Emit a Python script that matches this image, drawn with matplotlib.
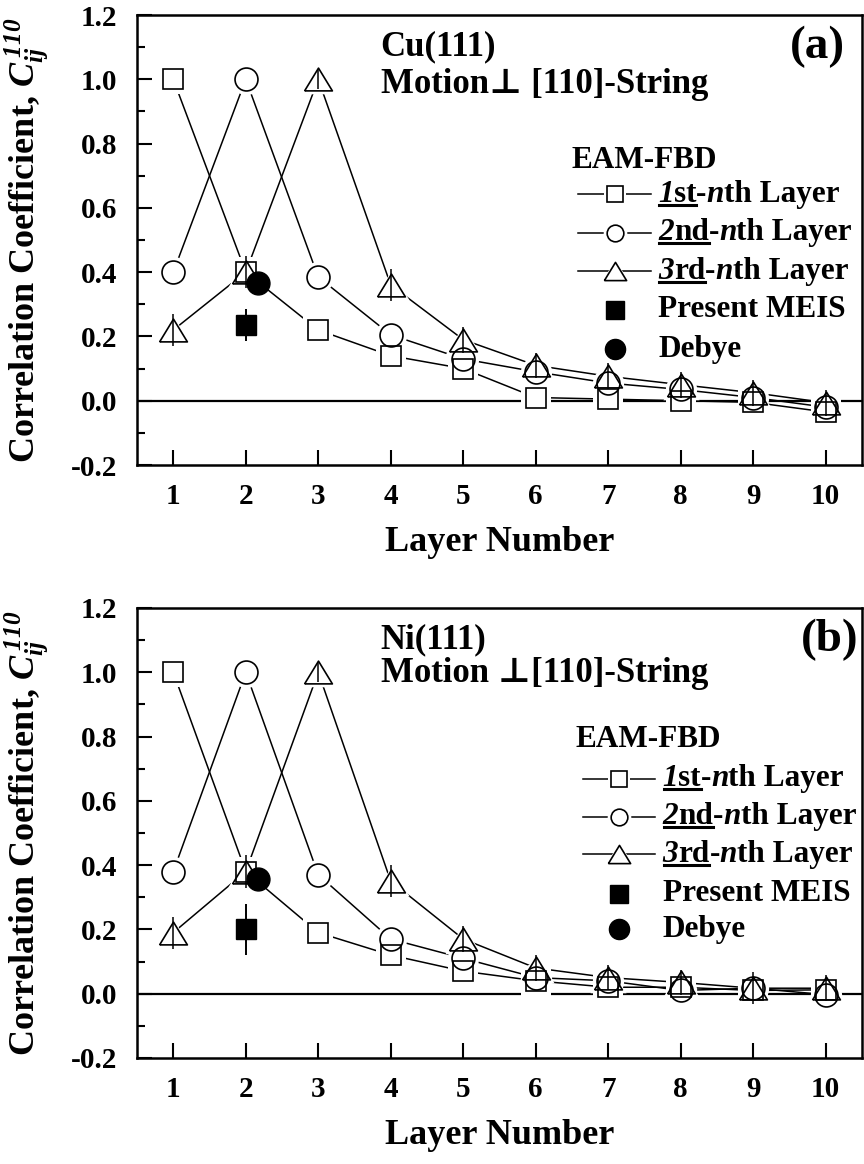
import numpy as np
import matplotlib.pyplot as plt
from matplotlib.ticker import MultipleLocator, FormatStrFormatter
from matplotlib.lines import Line2D

plt.rcParams['font.family'] = ['Liberation Serif', 'DejaVu Serif']
plt.rcParams['font.weight'] = 'bold'
plt.rcParams['mathtext.fontset'] = 'custom'
# only the C_ij^110 part of the y label is math, keep it all italic bold
plt.rcParams['mathtext.rm'] = 'Liberation Serif:italic:bold'
plt.rcParams['mathtext.it'] = 'Liberation Serif:italic:bold'
plt.rcParams['mathtext.bf'] = 'Liberation Serif:italic:bold'

layers = [1, 2, 3, 4, 5, 6, 7, 8, 9, 10]

# Cu(111) - EAM-FBD correlation coefficients
cu_1st = [1.00, 0.40, 0.22, 0.14, 0.10, 0.01, 0.005, 0.00, -0.005, -0.035]
cu_2nd = [0.40, 1.00, 0.385, 0.205, 0.13, 0.09, 0.055, 0.035, 0.01, -0.02]
cu_3rd = [0.22, 0.40, 1.00, 0.36, 0.19, 0.11, 0.076, 0.05, 0.025, -0.006]
cu_3rd_err = [0.05, 0.05, 0.03, 0.05, 0.04, 0.04, 0.04, 0.04, 0.04, 0.04]
cu_meis, cu_meis_err = 0.236, 0.05
cu_debye_x, cu_debye = 2.17, 0.366

# Ni(111)
ni_1st = [1.00, 0.38, 0.19, 0.12, 0.07, 0.04, 0.02, 0.02, 0.01, 0.012]
ni_2nd = [0.38, 1.00, 0.37, 0.17, 0.11, 0.05, 0.04, 0.01, 0.017, -0.003]
ni_3rd = [0.19, 0.38, 1.00, 0.35, 0.17, 0.08, 0.05, 0.035, 0.017, 0.017]
ni_3rd_err = [0.05, 0.05, 0.03, 0.05, 0.04, 0.04, 0.04, 0.04, 0.05, 0.04]
ni_meis, ni_meis_err = 0.20, 0.08
ni_debye_x, ni_debye = 2.165, 0.357

tri = [(-1, -0.82), (1, -0.82), (0, 0.82), (-1, -0.82)]
LW = 1.1
LEG_FS = 22.5


def rich_text(ax, x, y, parts, size):
    arts = []
    t = None
    for s, style in parts:
        if t is None:
            t = ax.text(x, y, s, fontsize=size, fontstyle=style,
                        fontweight='bold', va='center', ha='left')
        else:
            t = ax.annotate(s, xy=(1, 0), xycoords=t, fontsize=size,
                            fontstyle=style, fontweight='bold',
                            va='bottom', ha='left')
        arts.append(t)
    return arts


def panel(ax, s1, s2, s3, e3, meis, meis_err, dx, dy, material, motion,
          tag, tag_x, txt_y, leg_x, leg_y):
    ax.set_xlim(0.5, 10.5)
    ax.set_ylim(-0.2, 1.2)
    ax.axhline(0, color='k', lw=1.6, zorder=1)

    series = [(s1, 's', 15), (s2, 'o', 16.5), (s3, tri, 20)]
    for y, m, ms in series:
        ax.plot(layers, y, '-', color='k', lw=LW, zorder=2)
    for y, m, ms in series:
        ax.plot(layers, y, ls='none', marker=m, ms=ms + 6, mfc='white',
                mec='white', mew=0, zorder=3)
    ax.errorbar(layers, s3, yerr=e3, fmt='none', ecolor='k', elinewidth=1.1,
                capsize=0, zorder=3.5)
    ax.plot([dx], [dy], ls='none', marker='o', ms=16.5, color='k', zorder=3.6)
    for y, m, ms in series:
        ax.plot(layers, y, ls='none', marker=m, ms=ms, mfc='none', mec='k',
                mew=1.2, zorder=4)
    ax.errorbar([2], [meis], yerr=[meis_err], fmt='s', ms=14, color='k',
                elinewidth=1.4, capsize=0, zorder=5)

    ax.xaxis.set_ticks(layers)
    ax.yaxis.set_ticks([-0.2, 0.0, 0.2, 0.4, 0.6, 0.8, 1.0, 1.2])
    ax.yaxis.set_minor_locator(MultipleLocator(0.1))
    ax.yaxis.set_major_formatter(FormatStrFormatter('%.1f'))
    ax.tick_params(which='both', direction='in', top=False, right=False,
                   width=1.5)
    ax.tick_params(axis='y', which='major', length=11, labelsize=21, pad=14)
    ax.tick_params(axis='y', which='minor', length=6)
    ax.tick_params(axis='x', which='major', length=11, labelsize=21, pad=13)
    for sp in ax.spines.values():
        sp.set_linewidth(1.8)

    ax.set_xlabel('Layer Number', fontsize=26, fontweight='bold')
    ax.xaxis.set_label_coords(0.5, -0.135)
    ax.set_ylabel(r'Correlation Coefficient, $C_{ij}^{\,110}$',
                  fontsize=26, fontweight='bold')
    ax.yaxis.set_label_coords(-0.12, 0.5)

    ax.text(3.86, txt_y[0], material, fontsize=25, va='center')
    ax.text(3.86, txt_y[1], motion, fontsize=25, va='center')
    ax.text(tag_x, txt_y[0], tag, fontsize=34, ha='right', va='center')

    # hand-made legend
    x0, xm, x1, xt = leg_x, leg_x + 0.5, leg_x + 1.0, leg_x + 1.1
    ax.text(leg_x - 0.1, leg_y[0], 'EAM-FBD', fontsize=LEG_FS, va='center')
    handles = [('s', 11), ('o', 12), (tri, 16)]
    ordinals = [('1', 'st'), ('2', 'nd'), ('3', 'rd')]
    unders = []
    for i, ((m, ms), (num, suf)) in enumerate(zip(handles, ordinals)):
        yy = leg_y[i + 1]
        ax.plot([x0, x1], [yy, yy], color='k', lw=LW, zorder=2)
        ax.plot([xm], [yy], ls='none', marker=m, ms=ms + 5, mfc='white',
                mec='white', mew=0, zorder=3)
        ax.plot([xm], [yy], ls='none', marker=m, ms=ms, mfc='none',
                mec='k', mew=1.2, zorder=4)
        parts = rich_text(ax, xt, yy, [(num, 'italic'), (suf, 'normal'),
                                       ('-', 'normal'), ('n', 'italic'),
                                       ('th Layer', 'normal')], LEG_FS)
        unders.append(parts[:2])
    ax.plot([xm], [leg_y[4]], ls='none', marker='s', ms=13.5, color='k')
    ax.text(xt, leg_y[4], 'Present MEIS', fontsize=LEG_FS, va='center')
    ax.plot([xm], [leg_y[5]], ls='none', marker='o', ms=14.5, color='k')
    ax.text(xt, leg_y[5], 'Debye', fontsize=LEG_FS, va='center')
    return unders


fig = plt.figure(figsize=(8.64, 11.64), dpi=100)
ax_a = fig.add_axes([0.1586, 0.6005, 0.8390, 0.3866])
ax_b = fig.add_axes([0.1586, 0.0911, 0.8390, 0.3866])

u_a = panel(ax_a, cu_1st, cu_2nd, cu_3rd, cu_3rd_err, cu_meis, cu_meis_err,
            cu_debye_x, cu_debye, 'Cu(111)', 'Motion\u22a5 [110]-String',
            '(a)', 10.26, [1.10, 0.985], 6.59,
            [0.748, 0.643, 0.523, 0.403, 0.283, 0.16])
u_b = panel(ax_b, ni_1st, ni_2nd, ni_3rd, ni_3rd_err, ni_meis, ni_meis_err,
            ni_debye_x, ni_debye, 'Ni(111)', 'Motion \u22a5[110]-String',
            '(b)', 10.45, [1.10, 0.995], 6.65,
            [0.79, 0.668, 0.551, 0.434, 0.311, 0.20])

# underline the ordinal part of legend labels
fig.canvas.draw()
inv = fig.transFigure.inverted()
for pair in u_a + u_b:
    b0 = pair[0].get_window_extent()
    b1 = pair[1].get_window_extent()
    yline = b0.y0 + 4
    p0 = inv.transform((b0.x0 + 1, yline))
    p1 = inv.transform((b1.x1, yline))
    fig.add_artist(Line2D([p0[0], p1[0]], [p0[1], p1[1]], color='k', lw=2.2,
                          transform=fig.transFigure))

fig.savefig('out.png', dpi=100)
